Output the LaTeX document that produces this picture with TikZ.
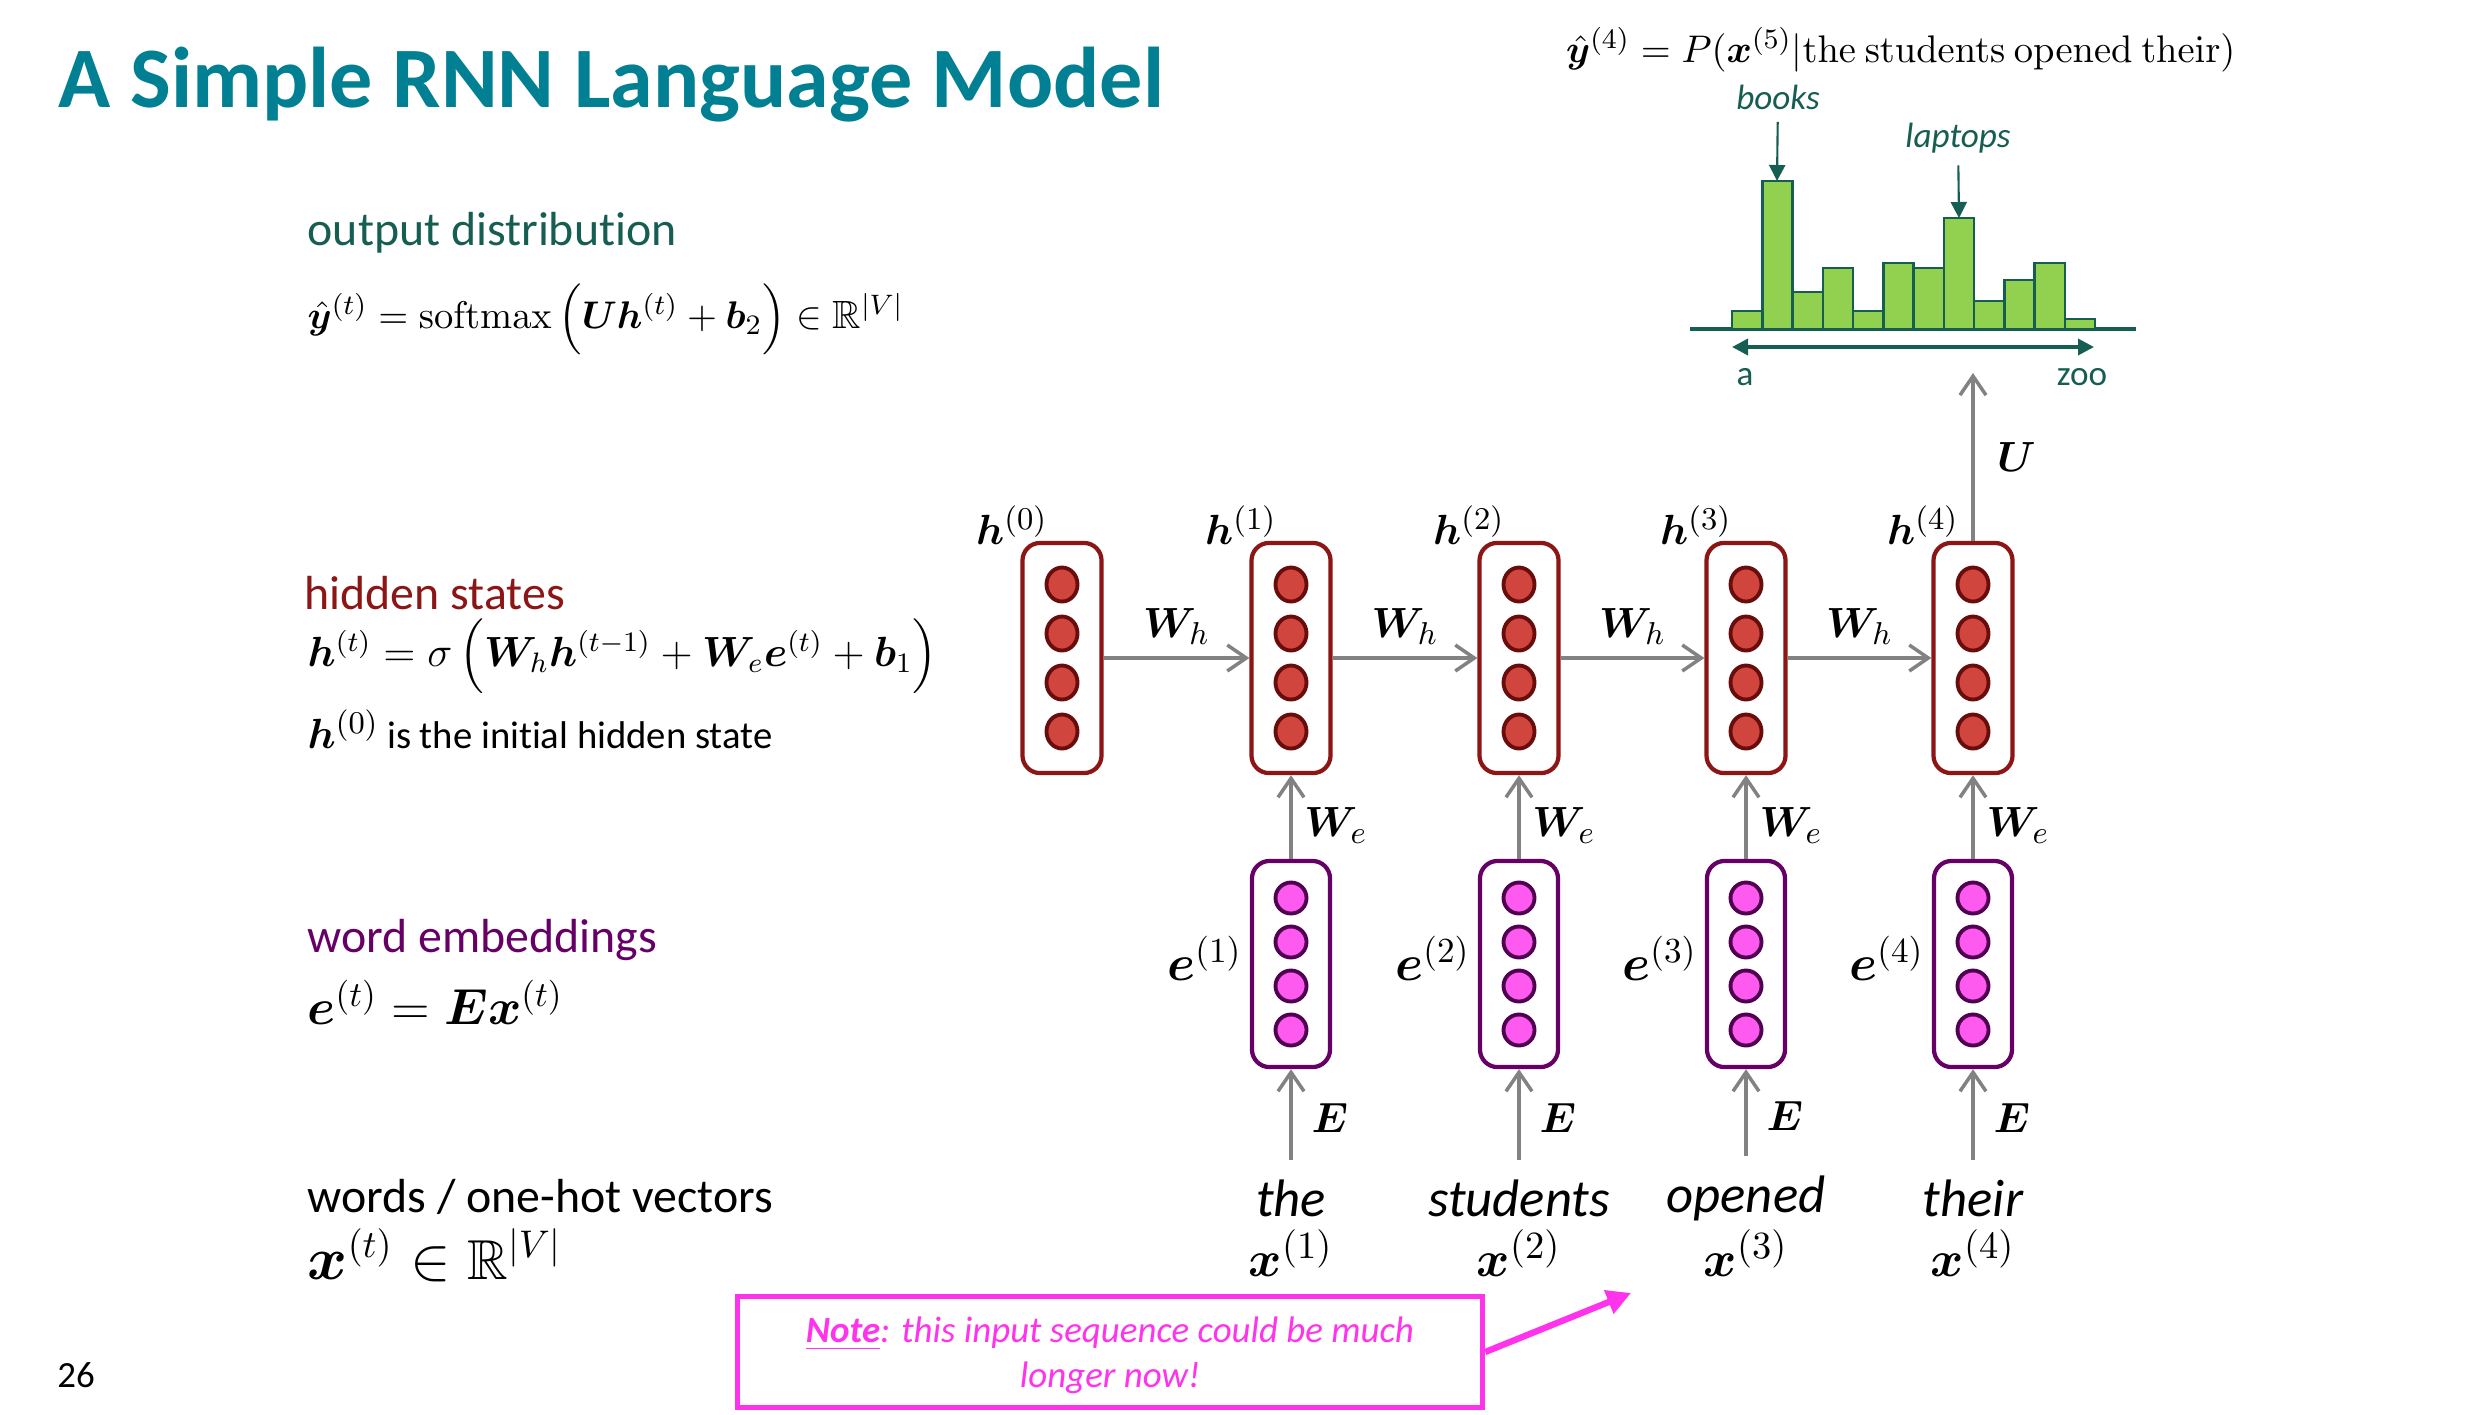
\documentclass[tikz,border=0pt]{standalone}
\usepackage{amsmath,amssymb}
\usepackage{bm}
\usepackage[no-math]{fontspec}
\setmainfont{Carlito}[Ligatures=NoCommon]
\usetikzlibrary{arrows.meta,positioning,calc}
\definecolor{titleTeal}{RGB}{0,128,146}
\definecolor{outGreen}{RGB}{22,94,82}
\definecolor{hidRed}{RGB}{140,22,22}
\definecolor{hidFill}{RGB}{208,70,62}
\definecolor{hidDark}{RGB}{105,12,12}
\definecolor{embPurple}{RGB}{102,0,102}
\definecolor{embFill}{RGB}{255,90,240}
\definecolor{embDark}{RGB}{80,0,80}
\definecolor{barGreen}{RGB}{146,208,80}
\definecolor{noteMagenta}{RGB}{255,51,235}
\definecolor{arrGray}{RGB}{130,130,130}

\begin{document}
\begin{tikzpicture}[x=0.01cm,y=-0.01cm,
    hbox/.style={draw=hidRed, line width=1.2pt, rounded corners=5pt, minimum width=0.79cm, minimum height=2.3cm, inner sep=0pt},
    ebox/.style={draw=embPurple, line width=1.2pt, rounded corners=5pt, minimum width=0.78cm, minimum height=2.06cm, inner sep=0pt},
    hdot/.style={fill=hidFill, draw=hidDark, line width=1.1pt},
    edot/.style={fill=embFill, draw=embDark, line width=1.1pt},
    flow/.style={arrGray, line width=1pt, -{Straight Barb[length=1.9mm,width=2.6mm]}},
    mlab/.style={text=black, font=\fontsize{13}{15}\selectfont},
    lefttxt/.style={anchor=west, inner sep=0pt},
    heading/.style={lefttxt, font=\fontsize{13.6}{16}\selectfont},
    word/.style={font=\fontsize{15}{18}\selectfont\itshape},
    distlab/.style={text=outGreen, font=\fontsize{10}{12}\selectfont},
    pointer/.style={outGreen, line width=0.6pt, -{Triangle[length=1.6mm,width=1.6mm]}}]
    \useasboundingbox (0,0) rectangle (2466,1414);

    % title and page number
    \node[anchor=base west, inner sep=0pt, text=titleTeal, font=\fontsize{24.5}{30}\selectfont\bfseries] (title) at (58,107) {A Simple RNN Language Model};
    \node[font=\fontsize{10.5}{12}\selectfont] (page) at (76,1375) {26};

    % left column
    \node[heading, text=outGreen] (outtxt) at (307,233) {output distribution};
    \node[lefttxt, font=\fontsize{11.2}{14}\selectfont] (outeq) at (307,319) {$\hat{\bm{y}}^{(t)} = \operatorname{softmax}\Big(\bm{U}\bm{h}^{(t)} + \bm{b}_2\Big) \in \mathbb{R}^{|V|}$};
    \node[heading, text=hidRed] (hidtxt) at (304,593) {hidden states};
    \node[lefttxt, font=\fontsize{11.8}{15}\selectfont] (hideq) at (307,656) {$\bm{h}^{(t)} = \sigma\,\Big(\bm{W}_h\bm{h}^{(t-1)} + \bm{W}_e\bm{e}^{(t)} + \bm{b}_1\Big)$};
    \node[lefttxt] (hinit) at (307,729) {{\fontsize{13}{15}\selectfont$\bm{h}^{(0)}$} {\fontsize{11}{13}\selectfont is the initial hidden state}};
    \node[heading, text=embPurple] (embtxt) at (307,940) {word embeddings};
    \node[lefttxt, font=\fontsize{14.2}{17}\selectfont] (embeq) at (307,1002) {$\bm{e}^{(t)} = \bm{E}\bm{x}^{(t)}$};
    \node[heading] (wordtxt) at (307,1197) {words / one-hot vectors};
    \node[lefttxt, font=\fontsize{16}{18}\selectfont] (wordeq) at (307,1255) {$\bm{x}^{(t)} \in \mathbb{R}^{|V|}$};

    % hidden states
    \foreach \i/\hx in {0/1062,1/1291,2/1519,3/1746,4/1973} {
        \node[hbox] (h\i) at (\hx,658) {};
        \foreach \dy in {-73.5,-24.5,24.5,73.5}
            \draw[hdot] (\hx,{658+\dy}) ellipse [x radius=0.155cm, y radius=0.17cm];
        \node[mlab, anchor=base] (hl\i) at ([xshift=-0.5cm,yshift=-0.04cm]h\i.north) {$\bm{h}^{(\i)}$};
    }
    \foreach \i [count=\j] in {0,...,3}
        \draw[flow] (h\i) -- (h\j) node[midway, above, mlab] {$\bm{W}_h$};

    % embeddings and words
    \foreach \i/\hx/\w in {1/1291/the,2/1519/students,3/1746/opened,4/1973/their} {
        \node[ebox] (e\i) at (\hx,964) {};
        \foreach \dy in {-66,-22,22,66}
            \draw[edot] (\hx,{964+\dy}) ellipse [x radius=0.155cm, y radius=0.155cm];
        \node[mlab, font=\fontsize{14}{16}\selectfont, left=0pt of e\i, inner sep=2pt, yshift=0.06cm] (el\i) {$\bm{e}^{(\i)}$};
        \node[word] (w\i) at (\hx,1198) {\w};
        \node[inner sep=0pt, font=\fontsize{15}{18}\selectfont] (x\i) at (\hx,1253) {$\bm{x}^{(\i)}$};
        \draw[flow] (e\i) -- (h\i) node[pos=0.4, right, mlab] {$\bm{W}_e$};
        \draw[flow, shorten <=2pt] (w\i) -- (e\i) node[midway, right=2pt, mlab] {$\bm{E}$};
    }

    % output distribution
    \node[font=\fontsize{11}{13}\selectfont] (yhat) at (1901,50) {$\hat{\bm{y}}^{(4)} = P(\bm{x}^{(5)}|\mathrm{the\ students\ opened\ their})$};
    \draw[outGreen, line width=1.3pt] (1690,329) -- (2136,329);
    \foreach \h [count=\k from 0] in {18,148,37,61,18,66,61,111,28,49,66,10}
        \draw[fill=barGreen, draw=outGreen, line width=0.7pt] ({1732+30.25*\k},329) rectangle ++(30.25,-\h);
    \coordinate (vlo) at (1732,347);
    \coordinate (vhi) at (2094,347);
    \draw[outGreen, line width=1pt, {Triangle[length=1.6mm,width=1.6mm]}-{Triangle[length=1.6mm,width=1.6mm]}] (vlo) -- (vhi);
    \node[distlab] (alab) at (1745,377) {a};
    \node[distlab] (zlab) at (2082,377) {zoo};
    \node[distlab, font=\fontsize{10}{12}\selectfont\itshape] (books) at (1778,97) {books};
    \node[distlab, font=\fontsize{10}{12}\selectfont\itshape] (laptops) at (1958,138) {laptops};
    \coordinate (bookbar) at (1777,181);
    \coordinate (lapbar) at (1959,218);
    \draw[pointer] (books) -- (bookbar);
    \draw[pointer] (laptops) -- (lapbar);
    \coordinate (ytop) at (1973,373);
    \draw[flow] (h4) -- (ytop) node[midway, right=3pt, mlab] {$\bm{U}$};

    % note
    \node[draw=noteMagenta, line width=1.4pt, minimum width=7.45cm, minimum height=1.11cm, align=center, text=noteMagenta, font=\fontsize{10.5}{12.8}\selectfont\itshape] (note) at (1110,1352) {\rule{0pt}{0.33cm}\underline{\textbf{Note}}: this input sequence could be much\\longer now!};
    \coordinate (more) at (1631,1293);
    \draw[noteMagenta, line width=1.8pt, -{Triangle[length=2.4mm,width=2.4mm]}] (note.east) -- (more);
\end{tikzpicture}
\end{document}
